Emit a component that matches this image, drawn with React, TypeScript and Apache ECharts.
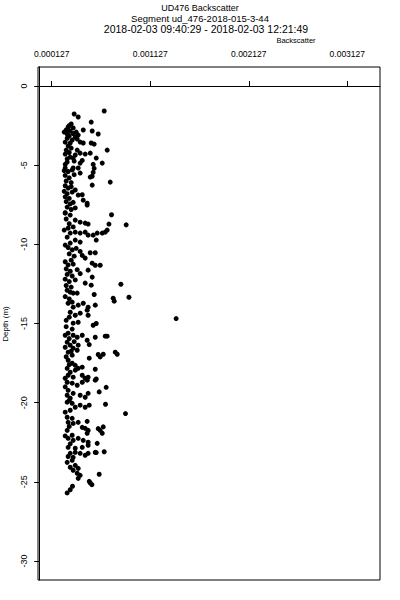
import React, { useEffect, useRef } from "react";
import * as echarts from "echarts";

// [backscatter, depth (m)]
const pointsUpper: number[][] = [
  [0.000660, -1.58], [0.000355, -1.77], [0.000396, -1.96], [0.000528, -2.28], [0.000325, -2.40],
  [0.000294, -2.59], [0.000274, -2.78], [0.000254, -2.91], [0.000284, -3.03], [0.000315, -2.84],
  [0.000345, -2.65], [0.000376, -2.91], [0.000396, -3.10], [0.000447, -2.78], [0.000538, -2.84],
  [0.000599, -3.03], [0.000366, -3.22], [0.000335, -3.41], [0.000315, -3.60], [0.000294, -3.79],
  [0.000274, -4.05], [0.000264, -4.30], [0.000416, -3.54], [0.000447, -3.60], [0.000528, -3.60],
  [0.000558, -3.67], [0.000690, -4.05], [0.000325, -3.92], [0.000386, -4.05], [0.000416, -4.24],
  [0.000366, -4.36], [0.000315, -4.49], [0.000467, -4.30], [0.000518, -4.24], [0.000579, -4.55],
  [0.000640, -4.87], [0.000284, -4.80], [0.000355, -4.74], [0.000416, -4.87], [0.000264, -5.18],
  [0.000345, -5.18], [0.000396, -5.18], [0.000548, -4.95], [0.000558, -5.20], [0.000548, -5.45],
  [0.000538, -5.70], [0.000305, -2.50], [0.000284, -3.30], [0.000345, -3.00], [0.000305, -3.15],
  [0.000264, -3.55], [0.000305, -4.20], [0.000284, -4.60], [0.000264, -4.95], [0.000345, -4.55],
  [0.000386, -3.35], [0.000437, -4.70],
];

const pointsUpperMid: number[][] = [
  [0.000254, -5.35], [0.000294, -5.40], [0.000335, -5.30], [0.000264, -5.65], [0.000305, -5.80],
  [0.000355, -5.60], [0.000274, -6.00], [0.000325, -6.10], [0.000416, -5.50], [0.000518, -5.75],
  [0.000538, -6.26], [0.000721, -6.07], [0.000264, -6.30], [0.000294, -6.45], [0.000325, -6.35],
  [0.000254, -6.65], [0.000284, -6.80], [0.000335, -6.70], [0.000264, -7.00], [0.000305, -7.10],
  [0.000366, -6.57], [0.000396, -6.89], [0.000447, -7.21], [0.000487, -7.40], [0.000437, -6.87],
  [0.000487, -7.52], [0.000274, -7.30], [0.000315, -7.45], [0.000345, -7.35], [0.000284, -7.65],
  [0.000325, -7.80], [0.000264, -8.00], [0.000366, -7.70], [0.000264, -8.03], [0.000315, -8.15],
  [0.000366, -8.47], [0.000416, -8.60], [0.000467, -8.66], [0.000497, -8.72], [0.000734, -8.13],
  [0.000708, -8.72], [0.000883, -8.77], [0.000294, -8.98], [0.000315, -9.29], [0.000366, -9.23],
  [0.000416, -9.29], [0.000467, -9.23], [0.000497, -9.42], [0.000548, -9.42], [0.000589, -9.29],
  [0.000640, -9.29], [0.000670, -9.23], [0.000690, -9.10], [0.000579, -9.73], [0.000274, -8.40],
  [0.000305, -8.70], [0.000254, -9.10], [0.000345, -8.90], [0.000284, -9.55],
];

const pointsMiddle: number[][] = [
  [0.000264, -10.05], [0.000315, -9.92], [0.000366, -9.73], [0.000416, -9.86], [0.000518, -10.53],
  [0.000569, -10.53], [0.000294, -10.20], [0.000335, -10.35], [0.000376, -10.25], [0.000416, -10.45],
  [0.000305, -10.60], [0.000355, -10.75], [0.000437, -10.70], [0.000325, -11.00], [0.000467, -10.87],
  [0.000538, -11.19], [0.000569, -11.32], [0.000619, -11.32], [0.000264, -11.10], [0.000294, -11.30],
  [0.000345, -11.25], [0.000274, -11.55], [0.000315, -11.70], [0.000386, -11.60], [0.000284, -11.90],
  [0.000335, -12.00], [0.000416, -11.85], [0.000264, -12.20], [0.000305, -12.35], [0.000366, -12.25],
  [0.000497, -11.63], [0.000538, -12.07], [0.000467, -12.45], [0.000528, -12.58], [0.000829, -12.52],
  [0.000284, -12.90], [0.000315, -13.02], [0.000345, -13.08], [0.000386, -13.08], [0.000558, -13.17],
  [0.000751, -13.40], [0.000761, -13.59], [0.000911, -13.34], [0.000294, -13.72], [0.000335, -13.65],
  [0.000345, -13.97], [0.000396, -13.84], [0.000447, -13.72], [0.000497, -13.97], [0.000569, -13.84],
  [0.000274, -12.60], [0.000325, -12.70], [0.000264, -13.30], [0.000305, -13.45],
];

const pointsLowerMid: number[][] = [
  [0.000315, -14.29], [0.000366, -14.48], [0.000416, -14.35], [0.000487, -14.16], [0.000497, -14.48],
  [0.001390, -14.69], [0.000274, -15.20], [0.000345, -14.98], [0.000396, -14.92], [0.000548, -15.11],
  [0.000579, -15.00], [0.000264, -15.74], [0.000294, -15.61], [0.000345, -15.74], [0.000386, -15.87],
  [0.000437, -15.74], [0.000487, -16.06], [0.000569, -15.87], [0.000670, -15.80], [0.000690, -15.80],
  [0.000508, -16.33], [0.000284, -16.18], [0.000315, -16.37], [0.000345, -16.56], [0.000386, -16.69],
  [0.000396, -16.37], [0.000294, -16.81], [0.000335, -17.00], [0.000599, -16.96], [0.000619, -17.11],
  [0.000650, -16.94], [0.000772, -16.81], [0.000792, -16.94], [0.000508, -17.19], [0.000294, -17.32],
  [0.000335, -17.51], [0.000366, -17.64], [0.000284, -17.83], [0.000315, -18.08], [0.000366, -17.95],
  [0.000396, -17.83], [0.000437, -17.76], [0.000569, -17.89], [0.000294, -18.27], [0.000345, -18.39],
  [0.000437, -18.27], [0.000467, -18.46], [0.000497, -18.39], [0.000579, -18.50], [0.000264, -18.46],
  [0.000305, -14.60], [0.000274, -14.80], [0.000335, -15.35], [0.000305, -15.95], [0.000355, -16.15],
  [0.000264, -16.50], [0.000325, -16.75], [0.000274, -17.10], [0.000305, -17.60],
];

const pointsLower: number[][] = [
  [0.000284, -18.71], [0.000335, -18.77], [0.000386, -18.90], [0.000437, -18.71], [0.000487, -18.58],
  [0.000569, -18.58], [0.000680, -19.03], [0.000609, -19.32], [0.000294, -19.22], [0.000345, -19.41],
  [0.000284, -19.53], [0.000315, -19.72], [0.000416, -19.53], [0.000467, -19.66], [0.000497, -19.41],
  [0.000673, -20.10], [0.000284, -19.97], [0.000335, -20.04], [0.000366, -20.29], [0.000315, -20.48],
  [0.000416, -20.16], [0.000467, -20.29], [0.000508, -20.16], [0.000876, -20.69], [0.000284, -20.92],
  [0.000335, -20.99], [0.000294, -21.24], [0.000345, -21.31], [0.000396, -21.24], [0.000487, -21.18],
  [0.000650, -21.53], [0.000599, -21.64], [0.000640, -21.93], [0.000619, -21.75], [0.000437, -21.56],
  [0.000467, -21.62], [0.000497, -21.75], [0.000487, -21.93], [0.000284, -21.75], [0.000335, -22.06],
  [0.000294, -22.25], [0.000345, -22.38], [0.000396, -22.25], [0.000447, -22.38], [0.000497, -22.50],
  [0.000589, -22.57], [0.000294, -22.82], [0.000366, -22.88], [0.000437, -22.82], [0.000497, -22.69],
  [0.000264, -19.00], [0.000305, -19.85], [0.000264, -20.60], [0.000305, -21.50], [0.000264, -22.10],
  [0.000315, -22.60],
];

const pointsBottom: number[][] = [
  [0.000315, -23.20], [0.000366, -23.14], [0.000416, -23.20], [0.000467, -23.32], [0.000497, -23.20],
  [0.000569, -23.14], [0.000660, -23.10], [0.000579, -23.15], [0.000284, -23.77], [0.000335, -23.64],
  [0.000315, -24.08], [0.000366, -23.96], [0.000345, -24.27], [0.000396, -24.15], [0.000386, -24.46],
  [0.000416, -24.59], [0.000396, -24.78], [0.000609, -24.52], [0.000508, -24.97], [0.000518, -25.07],
  [0.000535, -25.18], [0.000338, -25.28], [0.000315, -25.50], [0.000284, -25.70], [0.000294, -23.40],
  [0.000345, -23.45],
];

const xTicks = [0.000127, 0.001127, 0.002127, 0.003127];
const yTicks = [0, -5, -10, -15, -20, -25, -30];

const titleLines = [
  "UD476 Backscatter",
  "Segment ud_476-2018-015-3-44",
  "2018-02-03 09:40:29 - 2018-02-03 12:21:49",
];
const xAxisName = "Backscatter";
const yAxisName = "Depth (m)";

const FONT = "Liberation Sans";

export default function App() {
  const ref = useRef<HTMLDivElement>(null);
  useEffect(() => {
    document.body.style.margin = "0";
    if (!ref.current) return;
    const chart = echarts.init(ref.current, undefined, { renderer: "svg" });
    const data = [
      ...pointsUpper,
      ...pointsUpperMid,
      ...pointsMiddle,
      ...pointsLowerMid,
      ...pointsLower,
      ...pointsBottom,
    ];
    chart.setOption({
      animation: false,
      backgroundColor: "#fff",
      grid: {
        left: 38,
        top: 67,
        right: 20,
        bottom: 20,
        show: true,
        borderColor: "#000",
        borderWidth: 1,
        backgroundColor: "transparent",
      },
      graphic: [
        {
          type: "text",
          x: 200,
          y: 7.5,
          style: {
            text: titleLines[0],
            font: `9px '${FONT}'`,
            fill: "#000",
            textAlign: "center",
            textVerticalAlign: "middle",
          },
        },
        {
          type: "text",
          x: 200,
          y: 18.5,
          style: {
            text: titleLines[1],
            font: `9.5px '${FONT}'`,
            fill: "#000",
            textAlign: "center",
            textVerticalAlign: "middle",
          },
        },
        {
          type: "text",
          x: 206,
          y: 29,
          style: {
            text: titleLines[2],
            font: `10.5px '${FONT}'`,
            fill: "#000",
            textAlign: "center",
            textVerticalAlign: "middle",
          },
        },
        {
          type: "text",
          x: 296,
          y: 40,
          style: {
            text: xAxisName,
            font: `7.5px '${FONT}'`,
            fill: "#000",
            textAlign: "center",
            textVerticalAlign: "middle",
          },
        },
        {
          type: "text",
          x: 5.5,
          y: 324,
          rotation: Math.PI / 2,
          style: {
            text: yAxisName,
            font: `8px '${FONT}'`,
            fill: "#000",
            textAlign: "center",
            textVerticalAlign: "middle",
          },
        },
      ],
      xAxis: {
        type: "value",
        position: "top",
        min: -0.000012,
        max: 0.003459,
        splitLine: { show: false },
        axisLine: { show: true, lineStyle: { color: "#000", width: 1 } },
        axisTick: {
          show: true,
          customValues: xTicks,
          length: 5,
          lineStyle: { color: "#000", width: 1 },
        },
        axisLabel: {
          customValues: xTicks,
          formatter: (v: number) => v.toFixed(6),
          fontFamily: FONT,
          fontSize: 8.5,
          color: "#000",
          margin: 9,
        },
      },
      yAxis: {
        type: "value",
        min: -31.2,
        max: 1.2,
        splitLine: { show: false },
        axisLine: { show: true, lineStyle: { color: "#000", width: 1 } },
        axisTick: {
          show: true,
          customValues: yTicks,
          length: 5,
          lineStyle: { color: "#000", width: 1 },
        },
        axisLabel: {
          customValues: yTicks,
          rotate: 90,
          fontFamily: FONT,
          fontSize: 9,
          color: "#000",
          margin: 10,
        },
      },
      series: [
        {
          type: "scatter",
          data,
          symbol: "circle",
          symbolSize: 5,
          itemStyle: { color: "#000", opacity: 1 },
        },
      ],
    });
    return () => chart.dispose();
  }, []);
  return <div ref={ref} style={{ width: 400, height: 600 }} />;
}
